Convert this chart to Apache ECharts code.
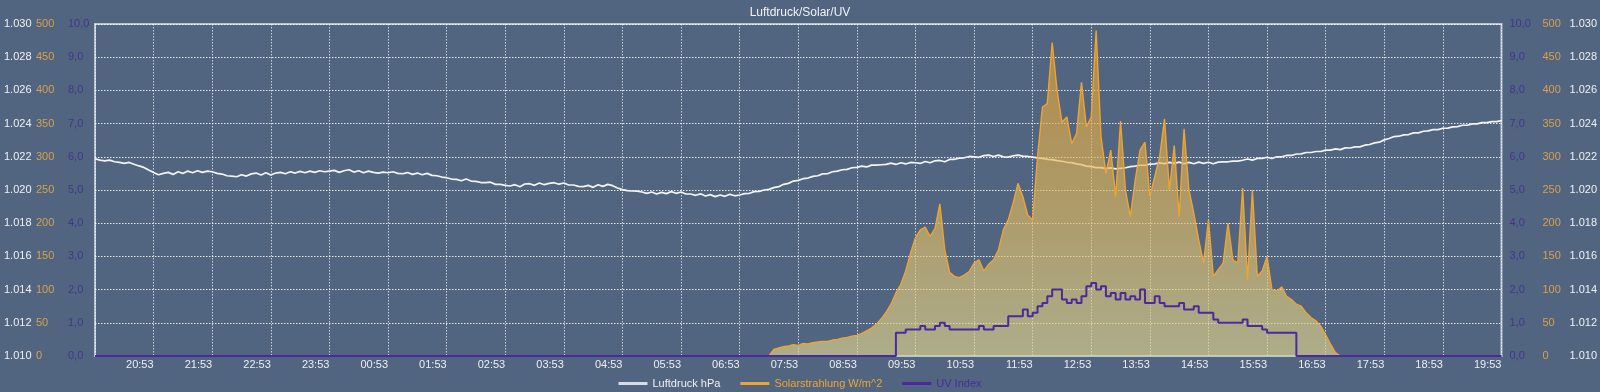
<!DOCTYPE html>
<html>
<head>
<meta charset="utf-8">
<script src="https://cdn.jsdelivr.net/npm/echarts@6/dist/echarts.min.js"></script>
<style>
html,body{margin:0;padding:0;background:#516580;}
#chart{width:1600px;height:392px;}
</style>
</head>
<body>
<div id="chart"></div>
<script>
// ---- data ----
const chartTitle = 'Luftdruck/Solar/UV';
const seriesNames = ['Luftdruck hPa', 'Solarstrahlung W/m^2', 'UV Index'];
const startTime = '19:53';
const stepMinutes = 5;
const pointCount = 289;

const pressureTicks = [1010, 1012, 1014, 1016, 1018, 1020, 1022, 1024, 1026, 1028, 1030];
const solarTicks = [0, 50, 100, 150, 200, 250, 300, 350, 400, 450, 500];
const uvTicks = [0, 1, 2, 3, 4, 5, 6, 7, 8, 9, 10];

const pressure = [
 1021.88,1021.8,1021.76,1021.8,1021.7,1021.66,1021.6,1021.66,1021.55,1021.45,1021.36,1021.2,
 1021.05,1020.92,1021.0,1021.06,1020.94,1021.1,1021.0,1021.14,1021.04,1021.16,1021.06,1021.14,
 1021.1,1021.0,1020.96,1020.86,1020.84,1020.8,1020.92,1020.84,1020.97,1021.02,1020.9,1021.04,
 1020.9,1021.02,1021.06,1020.98,1021.1,1021.02,1021.12,1021.04,1021.14,1021.06,1021.16,1021.1,
 1021.14,1021.18,1021.06,1021.16,1021.22,1021.08,1021.16,1021.04,1021.14,1021.06,1021.02,1021.08,
 1021.04,1021.1,1021.0,1020.98,1021.05,1020.94,1021.02,1020.92,1021.0,1020.88,1020.86,1020.78,
 1020.74,1020.66,1020.64,1020.56,1020.66,1020.54,1020.52,1020.45,1020.44,1020.47,1020.34,1020.34,
 1020.28,1020.24,1020.32,1020.2,1020.36,1020.38,1020.28,1020.42,1020.32,1020.4,1020.44,1020.35,
 1020.42,1020.3,1020.3,1020.22,1020.2,1020.28,1020.16,1020.32,1020.22,1020.34,1020.26,1020.12,
 1020.02,1019.96,1019.94,1019.93,1019.88,1019.8,1019.88,1019.76,1019.86,1019.78,1019.9,1019.8,
 1019.88,1019.76,1019.76,1019.68,1019.77,1019.64,1019.72,1019.6,1019.7,1019.62,1019.74,1019.65,
 1019.7,1019.78,1019.8,1019.9,1019.92,1020.0,1020.04,1020.14,1020.2,1020.34,1020.4,1020.54,
 1020.58,1020.68,1020.72,1020.82,1020.86,1020.97,1020.98,1021.1,1021.14,1021.22,1021.24,1021.34,
 1021.36,1021.44,1021.39,1021.5,1021.5,1021.52,1021.54,1021.62,1021.54,1021.64,1021.57,1021.66,
 1021.64,1021.6,1021.72,1021.64,1021.76,1021.78,1021.7,1021.84,1021.85,1021.92,1021.94,1022.02,
 1022.0,1021.97,1022.07,1022.1,1022.02,1022.1,1022.0,1021.98,1022.06,1022.1,1022.04,1022.02,
 1021.98,1021.94,1021.91,1021.85,1021.83,1021.77,1021.73,1021.67,1021.65,1021.57,1021.53,1021.44,
 1021.41,1021.35,1021.35,1021.29,1021.33,1021.27,1021.31,1021.34,1021.41,1021.44,1021.49,1021.49,
 1021.56,1021.57,1021.63,1021.59,1021.66,1021.6,1021.68,1021.58,1021.66,1021.58,1021.68,1021.6,
 1021.67,1021.58,1021.68,1021.69,1021.7,1021.74,1021.74,1021.79,1021.87,1021.8,1021.9,1021.9,
 1021.97,1021.9,1022.0,1022.0,1022.08,1022.08,1022.17,1022.18,1022.26,1022.26,1022.32,1022.32,
 1022.4,1022.4,1022.48,1022.43,1022.54,1022.53,1022.6,1022.6,1022.7,1022.74,1022.84,1022.88,
 1023.02,1023.1,1023.22,1023.24,1023.32,1023.34,1023.44,1023.44,1023.54,1023.56,1023.64,1023.64,
 1023.72,1023.73,1023.8,1023.82,1023.9,1023.9,1023.98,1023.98,1024.06,1024.06,1024.12,1024.12,
 1024.18
];

const solar = [
 0,0,0,0,0,0,0,0,0,0,0,0,
 0,0,0,0,0,0,0,0,0,0,0,0,
 0,0,0,0,0,0,0,0,0,0,0,0,
 0,0,0,0,0,0,0,0,0,0,0,0,
 0,0,0,0,0,0,0,0,0,0,0,0,
 0,0,0,0,0,0,0,0,0,0,0,0,
 0,0,0,0,0,0,0,0,0,0,0,0,
 0,0,0,0,0,0,0,0,0,0,0,0,
 0,0,0,0,0,0,0,0,0,0,0,0,
 0,0,0,0,0,0,0,0,0,0,0,0,
 0,0,0,0,0,0,0,0,0,0,0,0,
 0,0,0,0,0,0,0,10,12,14,15,17,
 16,19,18,20,21,22,22,24,25,27,28,30,
 31,34,38,42,48,56,66,78,95,108,128,155,
 178,190,194,180,192,229,160,126,120,118,122,127,
 140,145,128,138,145,160,190,205,230,260,240,212,
 205,300,375,380,472,400,352,360,320,335,412,345,
 360,490,330,275,310,240,354,250,210,265,310,322,
 240,270,300,357,250,317,210,342,250,215,175,140,
 205,120,130,140,200,145,140,253,115,250,120,128,
 150,100,98,104,90,85,78,75,65,58,53,45,
 32,18,5,0,0,0,0,0,0,0,0,0,
 0,0,0,0,0,0,0,0,0,0,0,0,
 0,0,0,0,0,0,0,0,0,0,0,0,
 0
];

const uv = [
 0,0,0,0,0,0,0,0,0,0,0,0,
 0,0,0,0,0,0,0,0,0,0,0,0,
 0,0,0,0,0,0,0,0,0,0,0,0,
 0,0,0,0,0,0,0,0,0,0,0,0,
 0,0,0,0,0,0,0,0,0,0,0,0,
 0,0,0,0,0,0,0,0,0,0,0,0,
 0,0,0,0,0,0,0,0,0,0,0,0,
 0,0,0,0,0,0,0,0,0,0,0,0,
 0,0,0,0,0,0,0,0,0,0,0,0,
 0,0,0,0,0,0,0,0,0,0,0,0,
 0,0,0,0,0,0,0,0,0,0,0,0,
 0,0,0,0,0,0,0,0,0,0,0,0,
 0,0,0,0,0,0,0,0,0,0,0,0,
 0,0,0,0,0,0,0,0,0.7,0.7,0.8,0.8,
 0.8,0.9,0.8,0.8,0.9,1.0,0.9,0.8,0.8,0.8,0.8,0.8,
 0.8,0.9,0.8,0.8,0.9,0.9,0.9,1.2,1.2,1.2,1.4,1.2,
 1.3,1.5,1.6,1.8,2.0,2.0,1.7,1.6,1.7,1.6,1.8,2.1,
 2.2,2.0,2.1,1.8,1.9,1.7,1.9,1.7,1.8,1.7,2.0,1.6,
 1.6,1.8,1.6,1.5,1.5,1.5,1.6,1.4,1.4,1.5,1.3,1.3,
 1.3,1.1,1.0,1.0,1.0,1.0,1.0,1.1,0.9,0.9,0.9,0.8,
 0.7,0.7,0.7,0.7,0.7,0.7,0,0,0,0,0,0,
 0,0,0,0,0,0,0,0,0,0,0,0,
 0,0,0,0,0,0,0,0,0,0,0,0,
 0,0,0,0,0,0,0,0,0,0,0,0,
 0
];

// category labels: regular time grid
function buildTimes(start, step, count) {
  const [h, m] = start.split(':').map(Number);
  const base = h * 60 + m;
  const out = [];
  for (let i = 0; i < count; i++) {
    const t = (base + i * step) % 1440;
    out.push(String(Math.floor(t / 60)).padStart(2, '0') + ':' + String(t % 60).padStart(2, '0'));
  }
  return out;
}
const times = buildTimes(startTime, stepMinutes, pointCount);
const pointsPerHour = 60 / stepMinutes;

// ---- styles ----
const FONT = '"Liberation Sans", Arial, Helvetica, sans-serif';
const C_PRESS = '#f4f4f4';
const C_SOLAR = '#eea431';
const C_SOLAR_LBL = '#d9a04c';
const C_UV = '#4a2a9c';
const C_UV_LBL = '#43358e';

function yAx(pos, ticks, color, margin, fmt, align, showSplit) {
  return {
    type: 'value', position: pos,
    min: ticks[0], max: ticks[ticks.length - 1], interval: ticks[1] - ticks[0],
    axisLine: {show: false}, axisTick: {show: false},
    splitLine: {show: !!showSplit, lineStyle: {color: 'rgba(255,255,255,0.85)', type: [1.5, 1.5], width: 1}},
    axisLabel: {color: color, fontSize: 11, fontFamily: FONT, margin: margin, align: align, formatter: fmt}
  };
}
const fmtPress = v => (v / 1000).toFixed(3);
const fmtSolar = v => String(v);
const fmtUV = v => v.toFixed(1).replace('.', ',');

const chart = echarts.init(document.getElementById('chart'), null, {renderer: 'canvas'});
chart.setOption({
  backgroundColor: '#516580',
  animation: false,
  title: {
    text: chartTitle, left: 'center', top: 2,
    textStyle: {color: '#f2f2f2', fontSize: 12, fontWeight: 'normal', fontFamily: FONT}
  },
  legend: {
    bottom: 3, left: 'center', icon: 'rect', itemWidth: 29, itemHeight: 3, itemGap: 20, padding: [0, 5],
    textStyle: {fontSize: 11, fontFamily: FONT},
    data: [
      {name: seriesNames[0], textStyle: {color: '#f0f0f0'}, itemStyle: {color: '#d8dce4'}},
      {name: seriesNames[1], textStyle: {color: C_SOLAR}, itemStyle: {color: C_SOLAR}},
      {name: seriesNames[2], textStyle: {color: C_UV}, itemStyle: {color: C_UV}}
    ]
  },
  grid: {left: 95, right: 96, top: 24, bottom: 36, show: true, borderColor: '#b9c3d2', borderWidth: 2, backgroundColor: 'transparent'},
  xAxis: {
    type: 'category', data: times, boundaryGap: false,
    axisLine: {show: true, lineStyle: {color: '#b9c3d2', width: 2}},
    axisTick: {show: false},
    axisLabel: {
      color: '#eeeeee', fontSize: 11, fontFamily: FONT, align: 'right', margin: 3,
      interval: (idx) => idx > 0 && idx % pointsPerHour === 0
    },
    splitLine: {show: true, interval: (idx) => idx % pointsPerHour === 0,
      lineStyle: {color: 'rgba(255,255,255,0.7)', type: [1.5, 1.5], width: 1}}
  },
  yAxis: [
    yAx('left', pressureTicks, '#f0f0f0', 91, fmtPress, 'left', false),
    yAx('left', solarTicks, C_SOLAR_LBL, 59, fmtSolar, 'left', false),
    yAx('left', uvTicks, C_UV_LBL, 27, fmtUV, 'left', true),
    yAx('right', pressureTicks, '#f0f0f0', 68, fmtPress, 'left', false),
    yAx('right', solarTicks, C_SOLAR_LBL, 41, fmtSolar, 'left', false),
    yAx('right', uvTicks, C_UV_LBL, 8, fmtUV, 'left', false)
  ],
  series: [
    {
      name: seriesNames[0], type: 'line', data: pressure, yAxisIndex: 0,
      showSymbol: false, color: '#d8dce4', z: 2,
      lineStyle: {color: C_PRESS, width: 1.7}
    },
    {
      name: seriesNames[1], type: 'line', data: solar, yAxisIndex: 1,
      showSymbol: false, color: C_SOLAR, z: 3,
      lineStyle: {color: C_SOLAR, width: 1.4},
      areaStyle: {
        color: new echarts.graphic.LinearGradient(0, 0, 0, 1, [
          {offset: 0, color: 'rgba(232,160,42,0.9)'},
          {offset: 0.5, color: 'rgba(228,184,88,0.9)'},
          {offset: 1, color: 'rgba(222,212,144,0.93)'}
        ])
      }
    },
    {
      name: seriesNames[2], type: 'line', data: uv, yAxisIndex: 2, step: 'end',
      showSymbol: false, color: C_UV, z: 4,
      lineStyle: {color: C_UV, width: 2}
    }
  ]
});
</script>
</body>
</html>
